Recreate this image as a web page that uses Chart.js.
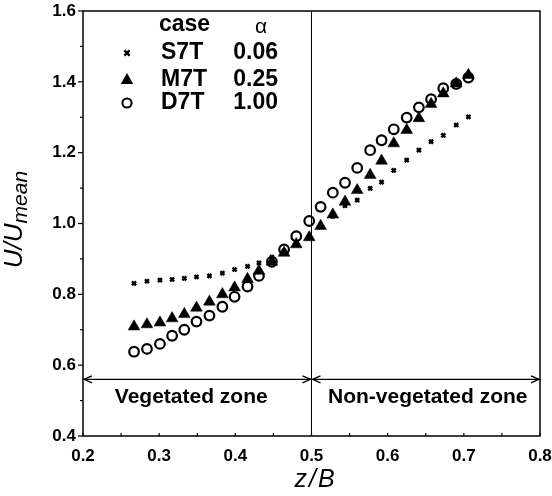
<!DOCTYPE html>
<html>
<head>
<meta charset="utf-8">
<script src="https://cdn.jsdelivr.net/npm/chart.js@4"></script>
<style>
  html, body { margin: 0; padding: 0; background: #fff; }
  #wrap { width: 552px; height: 496px; }
</style>
</head>
<body>
<div id="wrap"><canvas id="chart"></canvas></div>
<script>
// lateral position z/B of each measuring point
const zB = [0.267, 0.284, 0.301, 0.317, 0.333, 0.349, 0.366, 0.383, 0.399, 0.416, 0.431, 0.448, 0.464, 0.480,
            0.497, 0.512, 0.528, 0.544, 0.560, 0.577, 0.592, 0.608, 0.625, 0.641, 0.657, 0.673, 0.690, 0.706];
// U/Umean for each case
const s7t = [0.831, 0.837, 0.840, 0.842, 0.845, 0.849, 0.852, 0.860, 0.870, 0.879, 0.889, 0.905, 0.922, 0.942,
             0.962, 0.990, 1.020, 1.050, 1.066, 1.099, 1.117, 1.150, 1.179, 1.207, 1.231, 1.249, 1.278, 1.301];
const m7t = [0.709, 0.715, 0.720, 0.732, 0.744, 0.762, 0.779, 0.800, 0.819, 0.843, 0.866, 0.892, 0.917, 0.941,
             0.961, 0.993, 1.025, 1.061, 1.094, 1.137, 1.177, 1.226, 1.264, 1.297, 1.337, 1.367, 1.395, 1.419];
const d7t = [0.638, 0.646, 0.660, 0.683, 0.700, 0.723, 0.740, 0.765, 0.793, 0.822, 0.852, 0.892, 0.927, 0.964,
             1.007, 1.047, 1.087, 1.115, 1.157, 1.207, 1.235, 1.266, 1.299, 1.328, 1.351, 1.382, 1.394, 1.412];

const caseNames = ['S7T', 'M7T', 'D7T'];
const alphas = ['0.06', '0.25', '1.00'];
const zoneLabels = ['Vegetated zone', 'Non-vegetated zone'];
const zoneBounds = [0.2, 0.5, 0.8];
const arrowLevel = 0.56;

const FONT = '"Liberation Sans", Arial, Helvetica, sans-serif';

function pts(ys) {
    return zB.map((z, i) => ({ x: z, y: ys[i] }));
}

// markers, also used for the hand-drawn legend
function drawMarker(ctx, kind, x, y) {
    ctx.save();
    ctx.fillStyle = '#000';
    ctx.strokeStyle = '#000';
    if (kind === 0) {
        ctx.lineWidth = 2.4;
        ctx.beginPath();
        ctx.moveTo(x - 2.6, y - 2.6); ctx.lineTo(x + 2.6, y + 2.6);
        ctx.moveTo(x + 2.6, y - 2.6); ctx.lineTo(x - 2.6, y + 2.6);
        ctx.stroke();
    } else if (kind === 1) {
        ctx.beginPath();
        ctx.moveTo(x, y - 7);
        ctx.lineTo(x + 6.2, y + 4);
        ctx.lineTo(x - 6.2, y + 4);
        ctx.closePath();
        ctx.fill();
    } else {
        ctx.lineWidth = 2;
        ctx.beginPath();
        ctx.arc(x, y, 4.6, 0, Math.PI * 2);
        ctx.stroke();
    }
    ctx.restore();
}

function arrowHead(ctx, x, y, dir) {
    ctx.beginPath();
    ctx.moveTo(x + dir * -8, y - 3.5);
    ctx.lineTo(x, y);
    ctx.lineTo(x + dir * -8, y + 3.5);
    ctx.stroke();
}

const decor = {
    id: 'decor',
    beforeDatasetsDraw(chart) {
        const ctx = chart.ctx;
        const xs = chart.scales.x, ys = chart.scales.y;
        const a = chart.chartArea;
        ctx.save();
        ctx.strokeStyle = '#000';
        // divider at z/B = 0.5
        ctx.lineWidth = 1;
        const xm = xs.getPixelForValue(0.5);
        ctx.beginPath();
        ctx.moveTo(xm, a.top); ctx.lineTo(xm, a.bottom);
        ctx.stroke();
        // zone arrows
        const ya = ys.getPixelForValue(arrowLevel);
        ctx.lineWidth = 1.3;
        for (let i = 0; i < 2; i++) {
            const x0 = xs.getPixelForValue(zoneBounds[i]);
            const x1 = xs.getPixelForValue(zoneBounds[i + 1]);
            ctx.beginPath();
            ctx.moveTo(x0 + 1, ya); ctx.lineTo(x1 - 1, ya);
            ctx.stroke();
            arrowHead(ctx, x0 + 1, ya, -1);
            arrowHead(ctx, x1 - 1, ya, 1);
            ctx.fillStyle = '#000';
            ctx.font = 'bold 21px ' + FONT;
            ctx.textAlign = 'center';
            ctx.textBaseline = 'middle';
            ctx.fillText(zoneLabels[i], (x0 + x1) / 2 - (i === 0 ? 6 : -2), ya + 18);
        }
        ctx.restore();
    },
    afterDraw(chart) {
        const ctx = chart.ctx;
        const xs = chart.scales.x, ys = chart.scales.y;
        const a = chart.chartArea;
        ctx.save();
        ctx.strokeStyle = '#000';
        ctx.fillStyle = '#000';
        // frame
        ctx.lineWidth = 1.5;
        ctx.strokeRect(a.left, a.top, a.right - a.left, a.bottom - a.top);
        // y ticks (outward), minor every 0.1
        ctx.lineWidth = 1.2;
        for (let v = 4; v <= 16; v++) {
            const y = ys.getPixelForValue(v / 10);
            const len = v % 2 === 0 ? 5 : 3;
            ctx.beginPath();
            ctx.moveTo(a.left - len, y); ctx.lineTo(a.left, y);
            ctx.stroke();
        }
        // x ticks (inward), every 0.05
        for (let v = 4; v <= 16; v++) {
            const x = xs.getPixelForValue(v / 20);
            ctx.beginPath();
            ctx.moveTo(x, a.bottom); ctx.lineTo(x, a.bottom - 3);
            ctx.stroke();
        }
        // legend
        ctx.textBaseline = 'middle';
        ctx.font = 'bold 23px ' + FONT;
        ctx.textAlign = 'left';
        ctx.fillText('case', 159, 25);
        ctx.font = '21px ' + FONT;
        ctx.textAlign = 'center';
        ctx.fillText('\u03b1', 261, 27);
        const rowsY = [53, 80, 103];
        for (let i = 0; i < 3; i++) {
            drawMarker(ctx, i, 127, rowsY[i]);
            ctx.font = 'bold 23px ' + FONT;
            ctx.textAlign = 'left';
            ctx.fillText(caseNames[i], 161, rowsY[i]);
            ctx.textAlign = 'right';
            ctx.fillText(alphas[i], 278, rowsY[i]);
        }
        // axis titles
        ctx.textAlign = 'left';
        ctx.textBaseline = 'alphabetic';
        ctx.font = 'italic 25px ' + FONT;
        ctx.letterSpacing = '2px';
        const xt = 'z/B';
        const wx = ctx.measureText(xt).width;
        ctx.fillText(xt, xs.getPixelForValue(0.5) + 4 - wx / 2, 487);
        ctx.letterSpacing = '0px';

        ctx.translate(22, (a.top + a.bottom) / 2 - 4);
        ctx.rotate(-Math.PI / 2);
        const main = 'U/U', sub = 'mean';
        ctx.font = 'italic 26px ' + FONT;
        const wm = ctx.measureText(main).width;
        ctx.font = 'italic 21px ' + FONT;
        const ws = ctx.measureText(sub).width;
        const x0 = -(wm + ws) / 2;
        ctx.font = 'italic 26px ' + FONT;
        ctx.fillText(main, x0, 0);
        ctx.font = 'italic 21px ' + FONT;
        ctx.fillText(sub, x0 + wm, 5);
        ctx.restore();
    }
};

new Chart(document.getElementById('chart').getContext('2d'), {
    type: 'scatter',
    data: {
        datasets: [
            { label: caseNames[0], data: pts(s7t), pointStyle: 'crossRot', pointRadius: 2.8,
              borderColor: '#000', backgroundColor: '#000', pointBorderWidth: 2.4 },
            { label: caseNames[1], data: pts(m7t), pointStyle: 'triangle', pointRadius: 6.8,
              borderColor: '#000', backgroundColor: '#000', pointBorderWidth: 0.5 },
            { label: caseNames[2], data: pts(d7t), pointStyle: 'circle', pointRadius: 4.8,
              borderColor: '#000', backgroundColor: 'rgba(0,0,0,0)', pointBorderWidth: 2.2 }
        ]
    },
    options: {
        responsive: true,
        maintainAspectRatio: false,
        animation: false,
        layout: { padding: { left: 0, right: 12, top: 11, bottom: 0 } },
        plugins: { legend: { display: false }, tooltip: { enabled: false } },
        scales: {
            x: {
                type: 'linear', min: 0.2, max: 0.8,
                afterFit: s => { s.height = 60; s.paddingLeft = 0; s.paddingRight = 0; },
                border: { display: false },
                grid: { display: false, drawTicks: false },
                ticks: { stepSize: 0.1, padding: 10, color: '#000',
                         font: { family: FONT, size: 17, weight: 'bold' },
                         callback: v => v.toFixed(1) }
            },
            y: {
                type: 'linear', min: 0.4, max: 1.6,
                afterFit: s => { s.width = 83; s.paddingTop = 0; s.paddingBottom = 0; },
                border: { display: false },
                grid: { display: false, drawTicks: false },
                ticks: { stepSize: 0.2, padding: 7, color: '#000',
                         font: { family: FONT, size: 17, weight: 'bold' },
                         callback: v => v.toFixed(1) }
            }
        }
    },
    plugins: [decor]
});
</script>
</body>
</html>
